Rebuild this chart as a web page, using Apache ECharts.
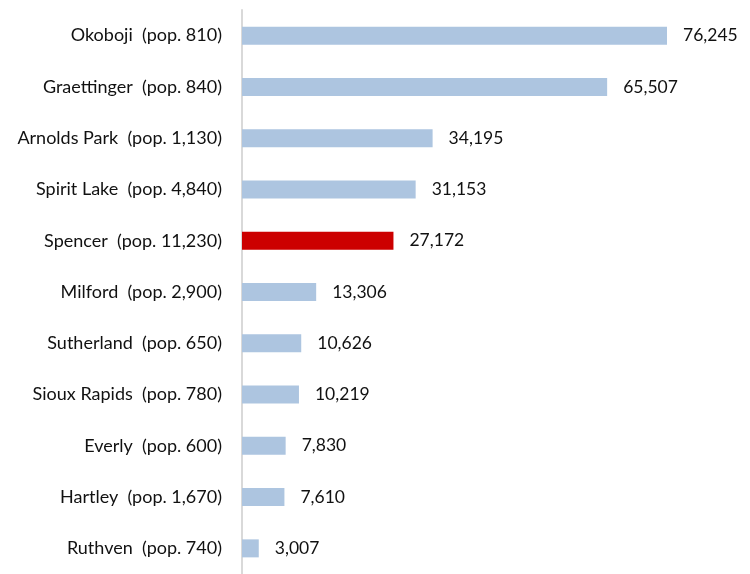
<!DOCTYPE html>
<html><head><meta charset="utf-8">
<script src="https://cdn.jsdelivr.net/npm/echarts@6/dist/echarts.min.js"></script>
<style>html,body{margin:0;padding:0;background:#fff}#c{width:750px;height:574px}</style>
</head><body><div id="c"></div>
<script>
const categories = ["Okoboji  (pop. 810)","Graettinger  (pop. 840)","Arnolds Park  (pop. 1,130)","Spirit Lake  (pop. 4,840)","Spencer  (pop. 11,230)","Milford  (pop. 2,900)","Sutherland  (pop. 650)","Sioux Rapids  (pop. 780)","Everly  (pop. 600)","Hartley  (pop. 1,670)","Ruthven  (pop. 740)"];
const values = [76245,65507,34195,31153,27172,13306,10626,10219,7830,7610,3007];
const highlight = "Spencer  (pop. 11,230)";

const chart = echarts.init(document.getElementById('c'));
chart.setOption({
  animation:false,
  grid:{left:242, top:10, width:500, height:567, containLabel:false},
  xAxis:{type:'value', min:0, max:89700, show:false},
  yAxis:{type:'category', data:categories, inverse:true,
    axisLine:{show:true, lineStyle:{color:'#d9d9d9', width:2}},
    axisTick:{show:false},
    axisLabel:{color:'#111', fontFamily:'Lato', fontSize:18, margin:20}},
  series:[{type:'bar', barWidth:18,
    data: values.map((v,i)=>({value:v, itemStyle:{color: categories[i]===highlight ? '#cc0000' : '#adc5e0'}})),
    label:{show:true, position:'right', distance:16, color:'#111', fontFamily:'Lato', fontSize:17.5,
      formatter:p=>p.value.toLocaleString('en-US')}}]
});
</script></body></html>
